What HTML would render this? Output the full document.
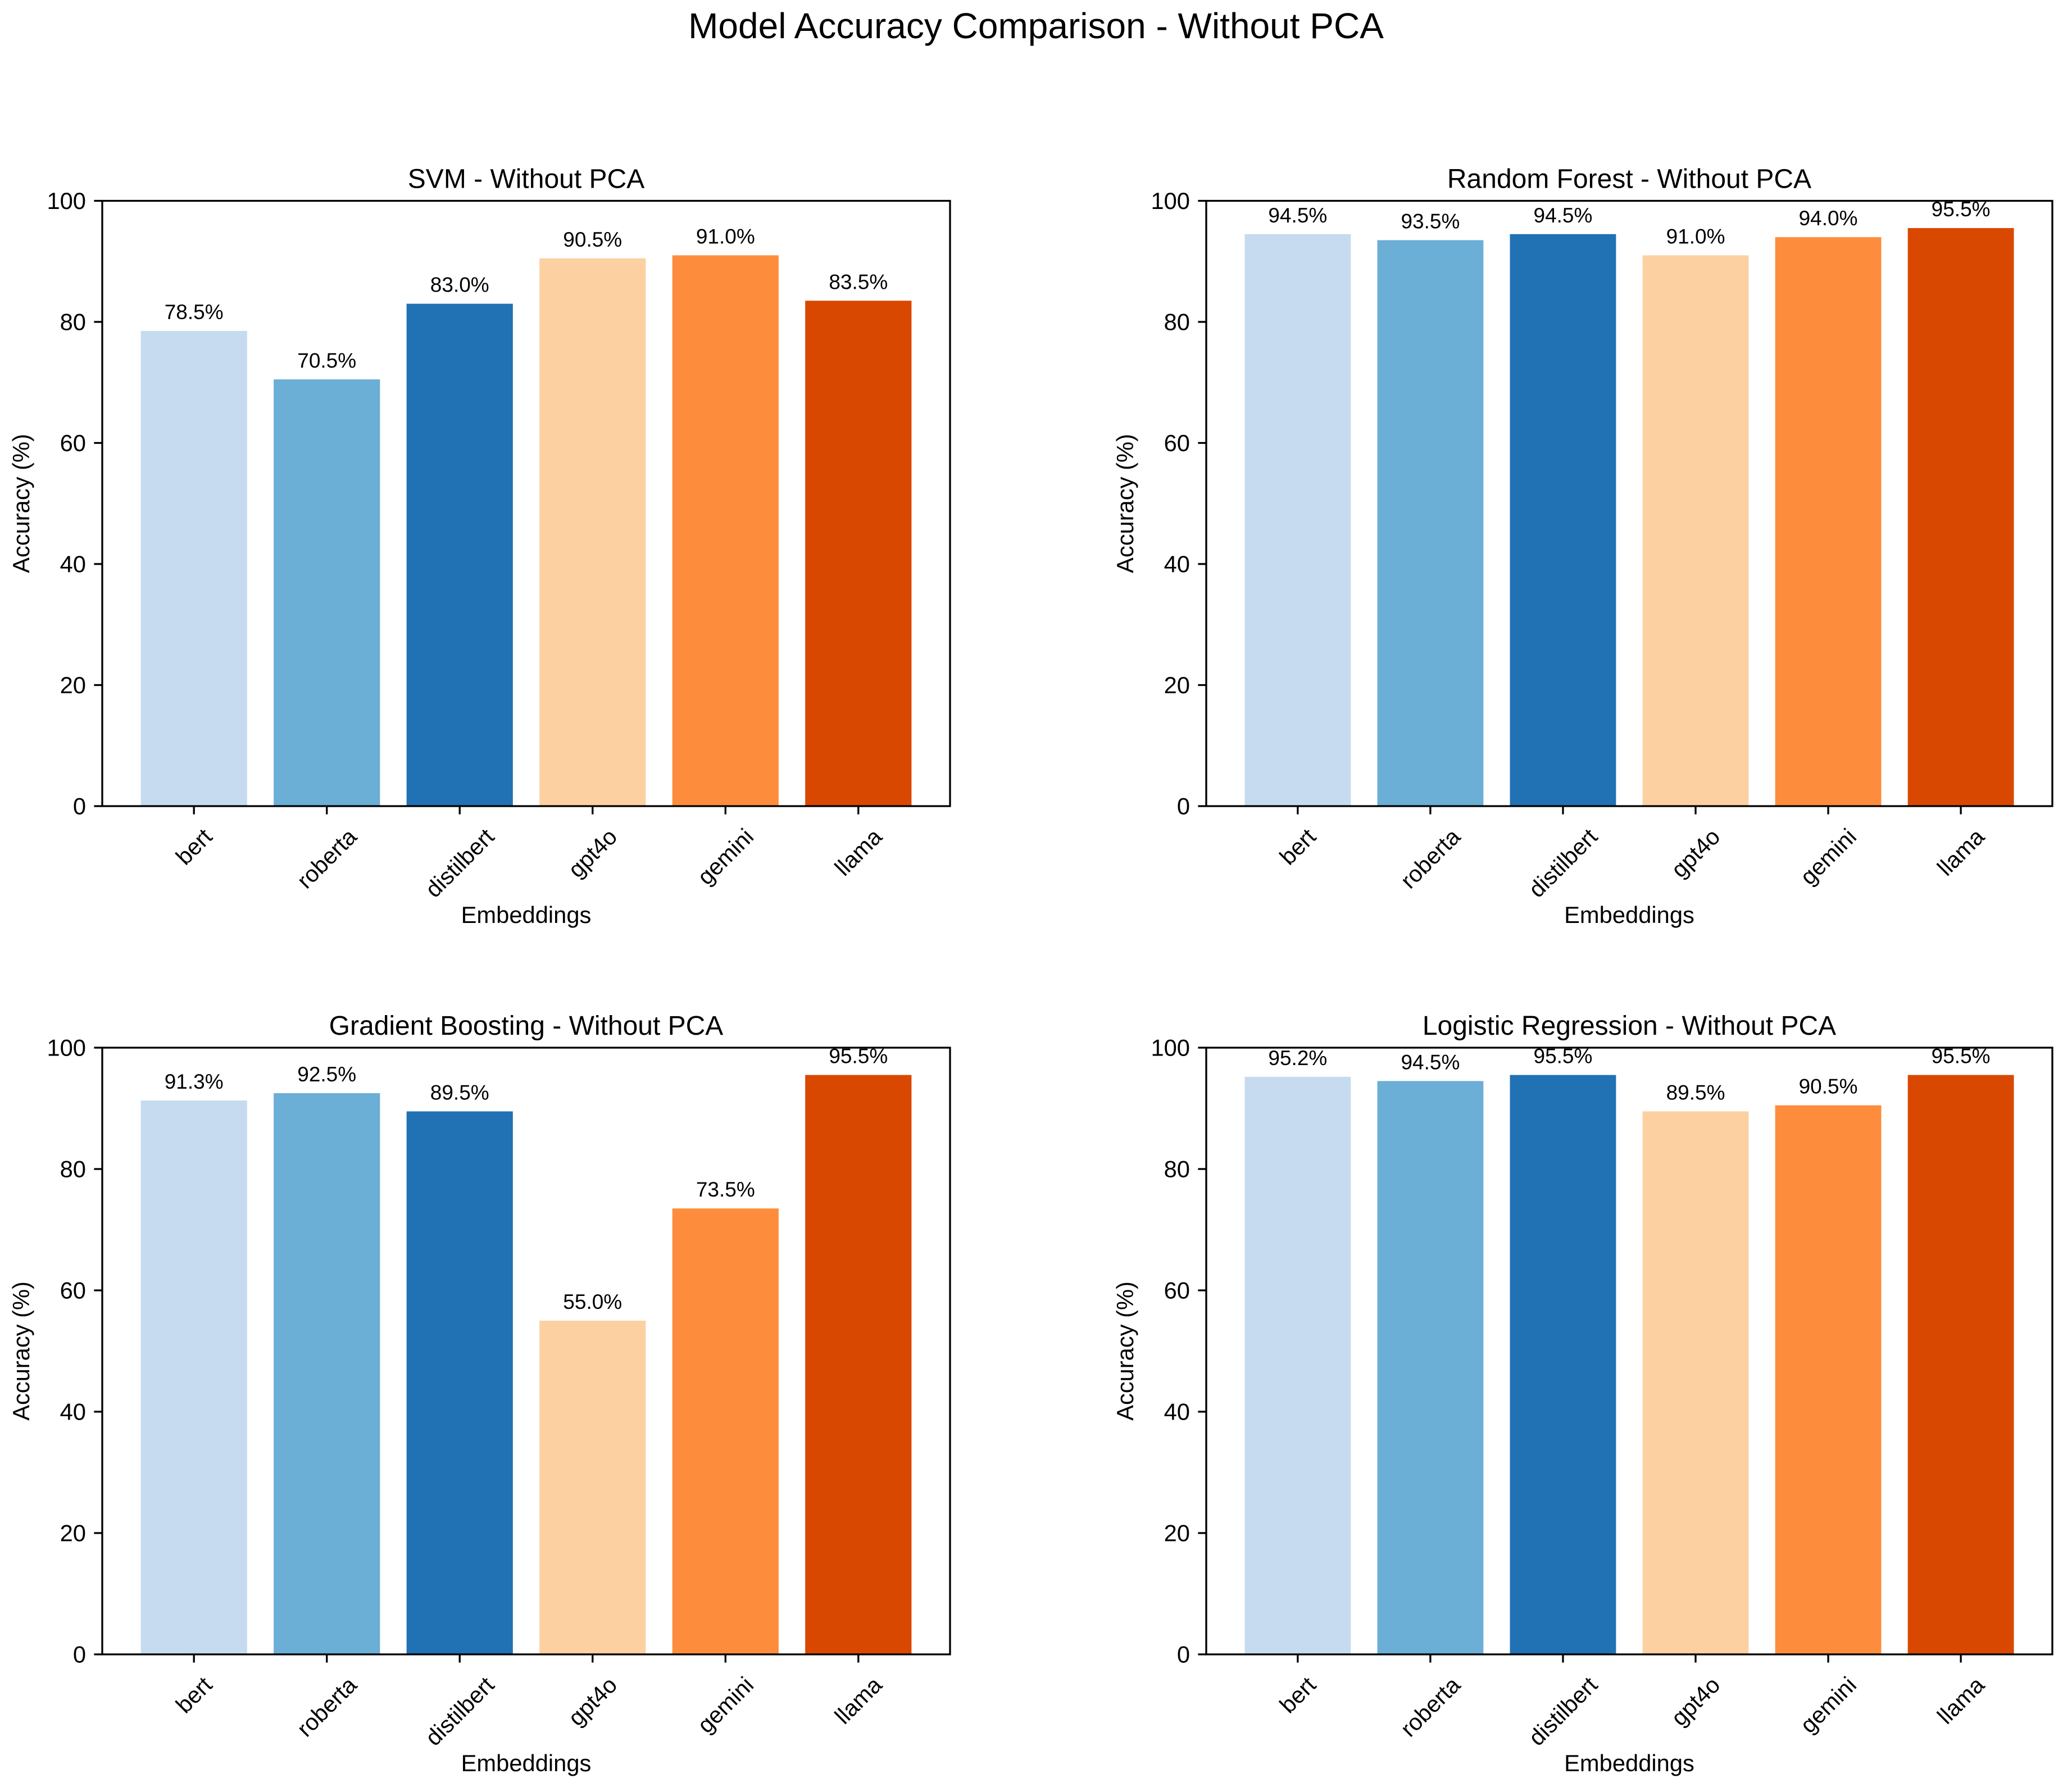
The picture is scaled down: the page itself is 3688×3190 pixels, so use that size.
<!DOCTYPE html>
<html><head><meta charset="utf-8">
<style>html,body{margin:0;padding:0;background:#fff}svg{display:block}text{font-family:"Liberation Sans","DejaVu Sans",sans-serif;fill:#000}</style>
</head><body>
<svg id="fig" width="3688" height="3190" viewBox="0 0 3688 3190" xmlns="http://www.w3.org/2000/svg">
<rect width="3688" height="3190" fill="#fff"/>
<text x="1844" y="68" font-size="64" text-anchor="middle">Model Accuracy Comparison - Without PCA</text>
</svg>
<script>
const categories = ["bert","roberta","distilbert","gpt4o","gemini","llama"];
const panelTitles = ["SVM - Without PCA","Random Forest - Without PCA","Gradient Boosting - Without PCA","Logistic Regression - Without PCA"];
const svmValues = [78.5,70.5,83.0,90.5,91.0,83.5];
const rfValues = [94.5,93.5,94.5,91.0,94.0,95.5];
const gbValues = [91.3,92.5,89.5,55.0,73.5,95.5];
const lrValues = [95.2,94.5,95.5,89.5,90.5,95.5];
const yTicks = [0,20,40,60,80,100];
const colors = ["#c6dbef","#6baed6","#2171b5","#fdd0a2","#fd8d3c","#d94801"];
const allValues = [svmValues, rfValues, gbValues, lrValues];
const panelNames = ["svm","random-forest","gradient-boosting","logistic-regression"];
const layout = [{l:182,r:1691,t:357.5,b:1435},{l:2147,r:3653,t:357.5,b:1435},{l:182,r:1691,t:1865,b:2945},{l:2147,r:3653,t:1865,b:2945}];
const NS = "http://www.w3.org/2000/svg";
const svg = document.getElementById("fig");
function mk(tag, attrs, parent){const e=document.createElementNS(NS,tag);for(const k in attrs)e.setAttribute(k,attrs[k]);(parent||svg).appendChild(e);return e;}
allValues.forEach((vals, p) => {
  const L = layout[p];
  const g = mk("g", {});
  
  
  const xmin = -0.69, xmax = categories.length - 1 + 0.69;
  const xs = v => L.l + (v - xmin) / (xmax - xmin) * (L.r - L.l);
  const ys = v => L.b - v / 100 * (L.b - L.t);
  vals.forEach((v, i) => {
    const r = mk("rect", {x: xs(i - 0.4), y: ys(v), width: xs(i + 0.4) - xs(i - 0.4), height: ys(0) - ys(v), fill: colors[i]}, g);
    
    
    const t = mk("text", {x: xs(i), y: ys(v) - 21, "font-size": 37, "text-anchor": "middle"}, g);
    t.textContent = v.toFixed(1) + "%";
    
    
  });
  const sp = mk("rect", {x: L.l, y: L.t, width: L.r - L.l, height: L.b - L.t, fill: "none", stroke: "#000", "stroke-width": 3.3}, g);
  
  
  yTicks.forEach(v => {
    mk("line", {x1: L.l - 14.6, x2: L.l, y1: ys(v), y2: ys(v), stroke: "#000", "stroke-width": 3.3}, g);
    const t = mk("text", {x: L.l - 29, y: ys(v) + 14.5, "font-size": 41.7, "text-anchor": "end"}, g);
    t.textContent = v;
    
    
  });
  categories.forEach((c, i) => {
    mk("line", {x1: xs(i), x2: xs(i), y1: L.b, y2: L.b + 14.6, stroke: "#000", "stroke-width": 3.3}, g);
    const t = mk("text", {x: 0, y: 0, "font-size": 41, "text-anchor": "middle", "dominant-baseline": "central"}, g);
    t.textContent = c;
    
    
    const w = t.getComputedTextLength();
    const half = (w + 32) * 0.7071 / 2;
    const cy = L.b + 36 + half;
    t.setAttribute("x", xs(i)); t.setAttribute("y", cy);
    t.setAttribute("transform", "rotate(-45 " + xs(i) + " " + cy + ")");
  });
  const tt = mk("text", {x: (L.l + L.r) / 2, y: L.t - 23, "font-size": 48, "text-anchor": "middle"}, g);
  tt.textContent = panelTitles[p];
  
  
  const xl = mk("text", {x: (L.l + L.r) / 2, y: L.b + 208, "font-size": 41.7, "text-anchor": "middle"}, g);
  xl.textContent = "Embeddings";
  
  
  const yc = (L.t + L.b) / 2, yx = L.l - 130;
  const yl = mk("text", {x: yx, y: yc, "font-size": 41.7, "text-anchor": "middle", transform: "rotate(-90 " + yx + " " + yc + ")"}, g);
  yl.textContent = "Accuracy (%)";
  
  
});
</script>
</body></html>
